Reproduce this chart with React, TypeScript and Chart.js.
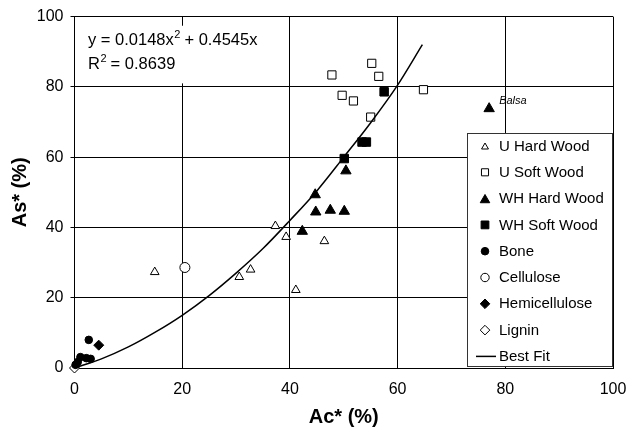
import React, { useEffect, useRef } from "react";
import { Chart, registerables } from "chart.js";

Chart.register(...registerables);

const uHardWood = [
  { x: 14.9, y: 27.3 }, { x: 37.3, y: 40.4 }, { x: 39.3, y: 37.3 }, { x: 46.4, y: 36.1 },
  { x: 32.7, y: 28.0 }, { x: 30.6, y: 25.9 }, { x: 41.1, y: 22.2 },
];
const uSoftWood = [
  { x: 55.2, y: 86.7 }, { x: 47.8, y: 83.4 }, { x: 56.5, y: 83.0 }, { x: 49.7, y: 77.6 },
  { x: 51.8, y: 76.0 }, { x: 55.0, y: 71.4 }, { x: 64.8, y: 79.2 },
];
const whHardWood = [
  { x: 77.0, y: 73.8 }, { x: 50.4, y: 56.1 }, { x: 44.7, y: 49.3 }, { x: 44.8, y: 44.4 },
  { x: 47.5, y: 44.9 }, { x: 50.1, y: 44.6 }, { x: 42.3, y: 38.9 },
];
const whSoftWood = [
  { x: 57.5, y: 78.6 }, { x: 53.4, y: 64.3 }, { x: 54.2, y: 64.3 }, { x: 50.1, y: 59.6 },
];
const bone = [
  { x: 2.65, y: 8.0 }, { x: 1.1, y: 3.1 }, { x: 2.2, y: 2.8 }, { x: 3.0, y: 2.6 },
  { x: 0.6, y: 1.7 }, { x: 0.2, y: 0.9 },
];
const cellulose = [{ x: 20.5, y: 28.6 }];
const hemicellulose = [{ x: 4.5, y: 6.5 }];
const lignin = [{ x: 0, y: 0 }];
const bestFit = [
  { x: 0, y: 0 }, { x: 5, y: 2.6 }, { x: 10, y: 6.0 }, { x: 15, y: 10.2 }, { x: 20, y: 15.0 },
  { x: 25, y: 20.6 }, { x: 30, y: 27.0 }, { x: 35, y: 34.0 }, { x: 40, y: 42.0 },
  { x: 45, y: 50.4 }, { x: 50, y: 60.0 }, { x: 55, y: 69.8 }, { x: 60, y: 80.5 }, { x: 64.6, y: 92.0 },
];
const axisTicks = [0, 20, 40, 60, 80, 100];
const xTitle = "Ac* (%)";
const yTitle = "As* (%)";
const eqLine1a = "y = 0.0148x";
const eqLine1b = " + 0.4545x";
const eqLine2a = "R";
const eqLine2b = " = 0.8639";
const balsaLabel = "Balsa";

const FONT = "'Liberation Sans', Arial, Helvetica, sans-serif";

type LegendItem = { label: string; style: string; fill: boolean; r: number };
const legendItems: LegendItem[] = [
  { label: "U Hard Wood", style: "triangle", fill: false, r: 4 },
  { label: "U Soft Wood", style: "rect", fill: false, r: 5 },
  { label: "WH Hard Wood", style: "triangle", fill: true, r: 5.5 },
  { label: "WH Soft Wood", style: "rect", fill: true, r: 5.5 },
  { label: "Bone", style: "circle", fill: true, r: 3.8 },
  { label: "Cellulose", style: "circle", fill: false, r: 4.2 },
  { label: "Hemicellulose", style: "rectRot", fill: true, r: 4.8 },
  { label: "Lignin", style: "rectRot", fill: false, r: 4.8 },
  { label: "Best Fit", style: "line", fill: false, r: 0 },
];

function drawShape(ctx: CanvasRenderingContext2D, style: string, x: number, y: number, r: number, fill: boolean) {
  ctx.save();
  ctx.beginPath();
  if (style === "triangle") {
    const h = 1.5 * r;
    const w = Math.sqrt(3) * r;
    ctx.moveTo(x, y - h / 2);
    ctx.lineTo(x + w / 2, y + h / 2);
    ctx.lineTo(x - w / 2, y + h / 2);
    ctx.closePath();
  } else if (style === "rect") {
    const s = Math.SQRT1_2 * r;
    ctx.rect(x - s, y - s, 2 * s, 2 * s);
  } else if (style === "circle") {
    ctx.arc(x, y, r, 0, Math.PI * 2);
  } else if (style === "rectRot") {
    ctx.moveTo(x, y - r);
    ctx.lineTo(x + r, y);
    ctx.lineTo(x, y + r);
    ctx.lineTo(x - r, y);
    ctx.closePath();
  }
  ctx.fillStyle = fill ? "#000" : "#fff";
  ctx.fill();
  ctx.strokeStyle = "#000";
  ctx.lineWidth = 1;
  ctx.stroke();
  ctx.restore();
}

const overlayPlugin = {
  id: "overlay",
  afterDraw(chart: any) {
    const ctx: CanvasRenderingContext2D = chart.ctx;
    const xs = chart.scales.x;
    const ys = chart.scales.y;
    ctx.save();
    // equation box
    ctx.fillStyle = "#fff";
    ctx.fillRect(xs.getPixelForValue(0.5), ys.getPixelForValue(97.4), xs.getPixelForValue(37) - xs.getPixelForValue(0.5), ys.getPixelForValue(81) - ys.getPixelForValue(97.4));
    ctx.fillStyle = "#000";
    ctx.textBaseline = "alphabetic";
    ctx.textAlign = "left";
    const eqX = 88;
    ctx.font = `16.5px ${FONT}`;
    let w = ctx.measureText(eqLine1a).width;
    ctx.fillText(eqLine1a, eqX, 45);
    ctx.font = `11px ${FONT}`;
    ctx.fillText("2", eqX + w + 0.5, 38);
    const sw = ctx.measureText("2").width;
    ctx.font = `16.5px ${FONT}`;
    ctx.fillText(eqLine1b, eqX + w + sw, 45);
    w = ctx.measureText(eqLine2a).width;
    ctx.fillText(eqLine2a, eqX, 69);
    ctx.font = `11px ${FONT}`;
    ctx.fillText("2", eqX + w + 0.5, 62);
    ctx.font = `16.5px ${FONT}`;
    ctx.fillText(eqLine2b, eqX + w + sw, 69);

    // Balsa label
    ctx.font = `italic 11px ${FONT}`;
    ctx.textBaseline = "middle";
    ctx.fillText(balsaLabel, xs.getPixelForValue(77.0) + 10, ys.getPixelForValue(73.8) - 8);

    // legend
    const lx = 467.5, ly = 133.5, lw = 145, lh = 233;
    ctx.fillStyle = "#fff";
    ctx.fillRect(lx, ly, lw, lh);
    ctx.strokeStyle = "#333";
    ctx.lineWidth = 1;
    ctx.strokeRect(lx, ly, lw, lh);
    ctx.font = `15px ${FONT}`;
    ctx.textBaseline = "middle";
    legendItems.forEach((it, i) => {
      const cy = 146 + i * 26.3;
      const sx = 485;
      if (it.style === "line") {
        ctx.beginPath();
        ctx.moveTo(476, cy);
        ctx.lineTo(496, cy);
        ctx.strokeStyle = "#000";
        ctx.lineWidth = 1.5;
        ctx.stroke();
      } else {
        drawShape(ctx, it.style, sx, cy, it.r, it.fill);
      }
      ctx.fillStyle = "#000";
      ctx.fillText(it.label, 499, cy + 0.5);
    });
    ctx.restore();
  },
};

export default function App() {
  const ref = useRef<HTMLCanvasElement>(null);
  useEffect(() => {
    document.body.style.margin = "0";
    const ds = (label: string, data: any[], style: string, fill: boolean, r: number) => ({
      type: "scatter" as const,
      label,
      data,
      pointStyle: style,
      pointRadius: r,
      pointHoverRadius: r,
      pointBackgroundColor: fill ? "#000" : "#fff",
      pointBorderColor: "#000",
      pointBorderWidth: 1,
      showLine: false,
      clip: false as any,
    });
    const chart = new Chart(ref.current!, {
      type: "scatter",
      data: {
        datasets: [
          {
            type: "line",
            label: "Best Fit",
            data: bestFit,
            borderColor: "#000",
            borderWidth: 1.5,
            pointRadius: 0,
            fill: false,
            cubicInterpolationMode: "monotone",
            clip: false as any,
          } as any,
          ds("U Hard Wood", uHardWood, "triangle", false, 5),
          ds("U Soft Wood", uSoftWood, "rect", false, 5.8),
          ds("WH Hard Wood", whHardWood, "triangle", true, 6),
          ds("WH Soft Wood", whSoftWood, "rect", true, 6),
          ds("Bone", bone, "circle", true, 3.8),
          ds("Cellulose", cellulose, "circle", false, 5),
          ds("Hemicellulose", hemicellulose, "rectRot", true, 5),
          ds("Lignin", lignin, "rectRot", false, 5),
        ],
      },
      options: {
        animation: false,
        responsive: false,
        events: [],
        layout: { padding: { top: 16, right: 0, left: 0, bottom: 0 } },
        plugins: { legend: { display: false }, tooltip: { enabled: false } },
        scales: {
          x: {
            type: "linear",
            min: 0,
            max: 100,
            afterBuildTicks: (s: any) => { s.ticks = axisTicks.map((v) => ({ value: v })); },
            afterFit: (s: any) => { s.height = 63; s.paddingRight = 14; },
            grid: { color: "#000", lineWidth: 1, drawTicks: false },
            border: { color: "#000", width: 1 },
            ticks: { color: "#000", padding: 12, font: { family: FONT, size: 16 }, maxRotation: 0 },
            title: { display: true, text: xTitle, color: "#000", font: { family: FONT, size: 20, weight: "bold" }, padding: { top: 0, bottom: 2 } },
          },
          y: {
            type: "linear",
            min: 0,
            max: 100,
            afterBuildTicks: (s: any) => { s.ticks = axisTicks.map((v) => ({ value: v })); },
            afterFit: (s: any) => { s.width = 74.5; },
            grid: { color: "#000", lineWidth: 1, drawTicks: true, tickLength: 4 },
            border: { color: "#000", width: 1 },
            ticks: { color: "#000", padding: 7, font: { family: FONT, size: 16 } },
            title: { display: true, text: yTitle, color: "#000", font: { family: FONT, size: 20, weight: "bold" }, padding: { top: 8, bottom: 0 } },
          },
        },
      } as any,
      plugins: [overlayPlugin],
    });
    return () => chart.destroy();
  }, []);
  return (
    <div style={{ width: 627, height: 431, background: "#fff" }}>
      <canvas ref={ref} width={627} height={431} style={{ display: "block" }} />
    </div>
  );
}
